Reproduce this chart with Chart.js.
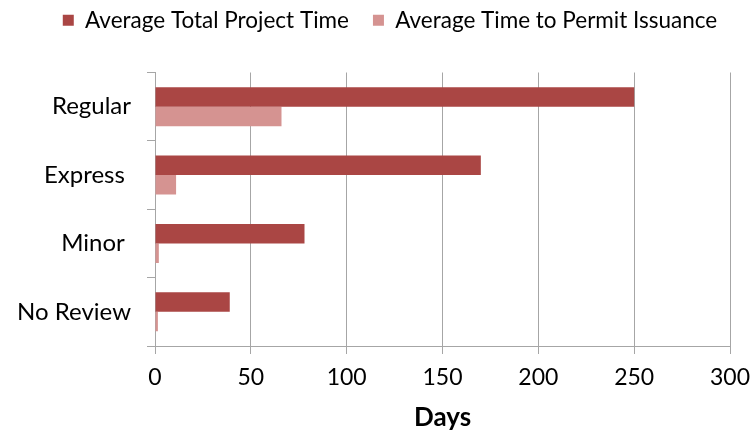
<!DOCTYPE html>
<html>
<head>
<meta charset="utf-8">
<script src="https://cdn.jsdelivr.net/npm/chart.js@4"></script>
<style>
  html, body { margin: 0; padding: 0; background: #fff; }
  #wrap { width: 753px; height: 434px; }
</style>
</head>
<body>
<div id="wrap"><canvas id="c" width="753" height="434"></canvas></div>
<script>
// Review track categories (top to bottom)
const categories = ['Regular', 'Express ', 'Minor ', 'No Review'];
// Days, per review track
const totalProjectTime = [250, 170, 78, 39];
const timeToPermit = [66, 11, 2, 1.5];
// Horizontal axis
const axisMin = 0;
const axisMax = 300;
const axisStep = 50;

const FONT = 'Lato, "Open Sans", sans-serif';
const GRID = '#a6a6a6';

// Leaves blank room below the legend and nudges it a little to the right
const legendTweak = {
  id: 'legendTweak',
  beforeInit(chart) {
    const legend = chart.legend;
    const fit = legend.fit;
    legend.fit = function () {
      fit.call(this);
      this.height += 31;
    };
    const draw = legend.draw;
    legend.draw = function () {
      const ctx = this.ctx;
      ctx.save();
      ctx.translate(25, 0);
      draw.call(this);
      ctx.restore();
    };
  }
};

new Chart(document.getElementById('c'), {
  type: 'bar',
  plugins: [legendTweak],
  data: {
    labels: categories,
    datasets: [
      {
        label: 'Average Total Project Time',
        data: totalProjectTime,
        backgroundColor: '#aa4644',
        borderWidth: 0
      },
      {
        label: 'Average Time to Permit Issuance',
        data: timeToPermit,
        backgroundColor: '#d59391',
        borderWidth: 0
      }
    ]
  },
  options: {
    indexAxis: 'y',
    responsive: false,
    animation: false,
    devicePixelRatio: 1,
    categoryPercentage: 0.57,
    barPercentage: 1.0,
    layout: { padding: { left: 0, right: 23, top: -15, bottom: 0 } },
    plugins: {
      legend: {
        position: 'top',
        labels: {
          boxWidth: 11,
          boxHeight: 11,
          padding: 24,
          color: '#000',
          font: { family: FONT, size: 22.5 }
        }
      },
      tooltip: { enabled: false }
    },
    scales: {
      y: {
        type: 'category',
        offset: true,
        afterFit(scale) { scale.width = 155; },
        grid: {
          offset: true,
          drawOnChartArea: false,
          drawTicks: true,
          tickLength: 8,
          color: GRID,
          lineWidth: 1
        },
        border: { display: true, color: GRID, width: 1 },
        ticks: {
          color: '#000',
          padding: 16,
          font: { family: FONT, size: 24 }
        }
      },
      x: {
        type: 'linear',
        min: axisMin,
        max: axisMax,
        afterFit(scale) {
          scale.height = 88;
          scale.paddingLeft = 0;
          scale.paddingRight = 0;
        },
        ticks: {
          stepSize: axisStep,
          color: '#000',
          padding: 10,
          font: { family: FONT, size: 23 }
        },
        grid: {
          color: GRID,
          lineWidth: 1,
          drawTicks: true,
          tickLength: 8
        },
        border: { display: true, color: GRID, width: 1 },
        title: {
          display: true,
          text: 'Days',
          color: '#000',
          padding: { top: 0, bottom: 1 },
          font: { family: FONT, size: 26, weight: 'bold' }
        }
      }
    }
  }
});
</script>
</body>
</html>
